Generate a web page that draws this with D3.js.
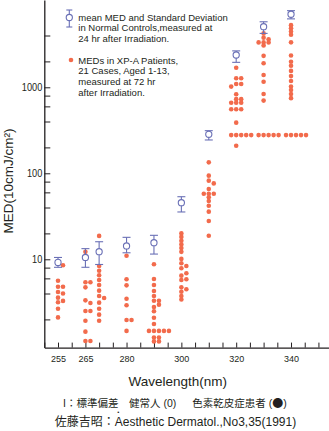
<!DOCTYPE html>
<html><head><meta charset="utf-8">
<script src="https://cdn.jsdelivr.net/npm/d3@7"></script>
<style>html,body{margin:0;padding:0;background:#fff;} svg{display:block;}</style>
</head><body><svg id="chart" width="329" height="431"></svg>
<script>
// ---- data ----
const wavelengths = [255, 265, 270, 280, 290, 300, 310, 320, 330, 340];
const controlMean = [9.2, 10.5, 12.25, 14.3, 15.6, 45.5, 284, 2375, 5064, 7070];
const controlLow  = [8.07, 8.07, 8.7, 11.9, 11.5, 35.5, 244, 1950, 4232, 6244];
const controlHigh = [10.5, 13.3, 16.0, 18.0, 19.0, 53.4, 313, 2650, 5777, 7780];
const med255 = [5.64, 4.8, 4.8, 4.17, 3.58, 3.16, 2.66, 2.11, 8.52, 4.0, 3.28];
const med265 = [5.4, 5.4, 4.72, 3.33, 2.5, 2.5, 1.93, 1.44, 1.12, 1.12, 12.2, 3.1];
const med270 = [18.7, 8.36, 7.37, 6.52, 5.74, 5.03, 4.32, 3.74, 3.13, 2.66, 2.27, 1.93, 3.55];
const med280 = [11.0, 5.85, 4.98, 3.48, 2.92, 1.97, 1.97, 1.47];
const med290 = [8.74, 5.9, 5.03, 4.28, 3.74, 3.3, 2.78, 2.49, 2.09, 1.77, 1.47, 1.47, 1.47, 1.47, 1.47, 1.23, 1.11, 3.3, 2.97, 1.23, 1.11];
const med300 = [20, 18.2, 16.45, 14.9, 13.5, 12.2, 10.1, 8.99, 7.86, 6.45, 5.74, 4.72, 4.2, 3.74, 3.41, 8.36, 6.89, 5.85, 4.48];
const med310 = [134, 93.9, 82.1, 65.7, 57.9, 57.9, 57.9, 52.6, 47.6, 42.0, 35.8, 27.9, 18.8, 76.3];
const med320 = [1690, 1275, 1275, 1092, 1092, 1018, 830, 728, 728, 662, 662, 662, 556, 556, 556, 388, 278, 278, 278, 278, 278, 209];
const med330 = [4232, 3775, 3620, 3325, 3325, 3325, 3063, 2320, 1900, 1390, 1160, 836, 700, 278, 278, 278, 278, 278];
const med340 = [5280, 4850, 4440, 4080, 3330, 2340, 1980, 1780, 1550, 1350, 1185, 1018, 930, 836, 748, 278, 278, 278, 278, 278];
const patientMED = [med255, med265, med270, med280, med290, med300, med310, med320, med330, med340];
const xTickValues = [250, 255, 260, 265, 270, 275, 280, 285, 290, 295, 300, 305, 310, 315, 320, 325, 330, 335, 340, 345, 350];
const xTickLabels = [255, 265, 280, 300, 320, 340];
const yMajorTicks = [10, 100, 1000];
const yMinorTicks = [2, 4, 6, 8, 20, 40, 60, 80, 200, 400, 600, 800, 2000, 4000];
const legendControl = ["mean MED and Standard Deviation", "in Normal Controls,measured at", "24 hr after Irradiation."];
const legendPatient = ["MEDs in XP-A Patients,", "21 Cases, Aged 1-13,", "measured at 72 hr", "after Irradiation."];

// ---- styles ----
const DOT = "#f26b4c", CTRL = "#6a70b6", AXIS = "#231f20", TXT = "#231f20";
const LAT = "'Liberation Sans', Arial, sans-serif";
const CJK = "'Liberation Sans', 'Noto Sans CJK JP', sans-serif";
const CJKFIRST = "'Noto Sans CJK JP', sans-serif";

const svg = d3.select("#chart");
const x = d3.scaleLinear().domain([250, 354]).range([44.3, 329.4]);
const y = d3.scaleLog().domain([0.94, 10350]).range([347.6, 0]);

// ---- dodge layout for patient dots ----
const SLOT = 5, TH = 3.0, CTH = 5.5, slotOrder = [0, 1, -1, 2, 3, -2, -3, 4, -4];
function dodge(values, cx, ctrlY) {
  const placed = [];
  return values.map(v => {
    const py = y(v);
    for (const k of slotOrder) {
      const hitDot = placed.some(p => p.k === k && Math.abs(p.y - py) < TH);
      const hitCtrl = k === 0 && Math.abs(ctrlY - py) < CTH;
      if (!hitDot && !hitCtrl) { placed.push({k, y: py}); return {cx: cx + k * SLOT, cy: py}; }
    }
    return {cx, cy: py};
  });
}

// ---- axes ----
const yAxis = d3.axisLeft(y).tickValues([...yMajorTicks, ...yMinorTicks])
  .tickSize(-6).tickSizeOuter(0).tickPadding(2)
  .tickFormat(d => yMajorTicks.includes(d) ? d : "");
const gy = svg.append("g").attr("transform", `translate(${x(250)},0)`).call(yAxis);
gy.select(".domain").attr("stroke", AXIS).attr("stroke-width", 1.3);
gy.selectAll(".tick line").attr("stroke", AXIS).attr("stroke-width", 1);
gy.selectAll(".tick text").attr("font-family", LAT).attr("font-size", 11.5).attr("fill", TXT)
  .attr("x", -2.5).attr("transform", "scale(0.8,1)");

const xAxis = d3.axisBottom(x).tickValues(xTickValues)
  .tickSize(-5).tickSizeOuter(0).tickPadding(8)
  .tickFormat(d => xTickLabels.includes(d) ? d : "");
const gx = svg.append("g").attr("transform", `translate(0,${y.range()[0]})`).call(xAxis);
gx.select(".domain").attr("stroke", AXIS).attr("stroke-width", 1.3);
gx.selectAll(".tick line").attr("stroke", AXIS).attr("stroke-width", 1);
gx.selectAll(".tick text").attr("font-family", LAT).attr("font-size", 9).attr("fill", TXT);

// ---- patient dots ----
const dotsG = svg.append("g");
wavelengths.forEach((w, i) => {
  const pts = dodge(patientMED[i], x(w), y(controlMean[i]));
  dotsG.selectAll(null).data(pts).join("circle")
    .attr("cx", d => d.cx).attr("cy", d => d.cy).attr("r", 2.3).attr("fill", DOT);
});

// ---- normal controls (mean and SD) ----
const ctrlG = svg.append("g").attr("stroke", CTRL).attr("stroke-width", 1.1);
const ctrl = wavelengths.map((w, i) => ({w, m: controlMean[i], lo: controlLow[i], hi: controlHigh[i]}));
ctrlG.selectAll(".v").data(ctrl).join("line")
  .attr("x1", d => x(d.w)).attr("x2", d => x(d.w)).attr("y1", d => y(d.lo)).attr("y2", d => y(d.hi));
ctrlG.selectAll(".ct").data(ctrl).join("line")
  .attr("x1", d => x(d.w) - 4).attr("x2", d => x(d.w) + 4).attr("y1", d => y(d.hi)).attr("y2", d => y(d.hi));
ctrlG.selectAll(".cb").data(ctrl).join("line")
  .attr("x1", d => x(d.w) - 4).attr("x2", d => x(d.w) + 4).attr("y1", d => y(d.lo)).attr("y2", d => y(d.lo));
ctrlG.selectAll("circle").data(ctrl).join("circle")
  .attr("cx", d => x(d.w)).attr("cy", d => y(d.m)).attr("r", 3.1).attr("fill", "#fff");

// ---- legend ----
const lg = svg.append("g");
const ls = lg.append("g").attr("stroke", CTRL).attr("stroke-width", 1.1);
ls.append("line").attr("x1", 69.3).attr("x2", 69.3).attr("y1", 10).attr("y2", 27);
ls.append("line").attr("x1", 66.3).attr("x2", 72.3).attr("y1", 10).attr("y2", 10);
ls.append("line").attr("x1", 66.3).attr("x2", 72.3).attr("y1", 27).attr("y2", 27);
ls.append("circle").attr("cx", 69.3).attr("cy", 17.5).attr("r", 3.1).attr("fill", "#fff");
lg.append("circle").attr("cx", 71).attr("cy", 60).attr("r", 2.3).attr("fill", DOT);
lg.selectAll(".l1").data(legendControl).join("text")
  .attr("x", 78.3).attr("y", (d, i) => 20.8 + i * 10.5)
  .attr("font-family", LAT).attr("font-size", 9.5).attr("fill", TXT).text(d => d);
lg.selectAll(".l2").data(legendPatient).join("text")
  .attr("x", 78.3).attr("y", (d, i) => 63.5 + i * 10.7)
  .attr("font-family", LAT).attr("font-size", 9.5).attr("fill", TXT).text(d => d);

// ---- titles ----
svg.append("text").attr("transform", "translate(13,181) rotate(-90)").attr("text-anchor", "middle")
  .attr("font-family", LAT).attr("font-size", 13.5).attr("fill", TXT).text("MED(10cmJ/cm²)");
svg.append("text").attr("x", 177.7).attr("y", 385.5).attr("text-anchor", "middle")
  .attr("font-family", LAT).attr("font-size", 13.5).attr("fill", TXT).text("Wavelength(nm)");

const note = svg.append("g").attr("font-family", CJK).attr("font-size", 10.5).attr("fill", TXT);
note.append("text").attr("x", 63).attr("y", 406.5).text("I：標準偏差");
note.append("text").attr("x", 129).attr("y", 406.5).text("健常人 (0)");
const t3 = note.append("text").attr("x", 192.3).attr("y", 406.5);
t3.append("tspan").text("色素乾皮症患者 (");
t3.append("tspan").attr("font-family", CJKFIRST).attr("font-size", 11).text("●");
t3.append("tspan").text(")");
note.append("text").attr("x", 118.3).attr("y", 413.5).attr("text-anchor", "middle").attr("font-size", 6).text("•");
svg.append("text").attr("x", 175.5).attr("y", 426).attr("text-anchor", "middle")
  .attr("font-family", CJK).attr("font-size", 12).attr("fill", TXT)
  .text("佐藤吉昭：Aesthetic Dermatol.,No3,35(1991)");
</script></body></html>
